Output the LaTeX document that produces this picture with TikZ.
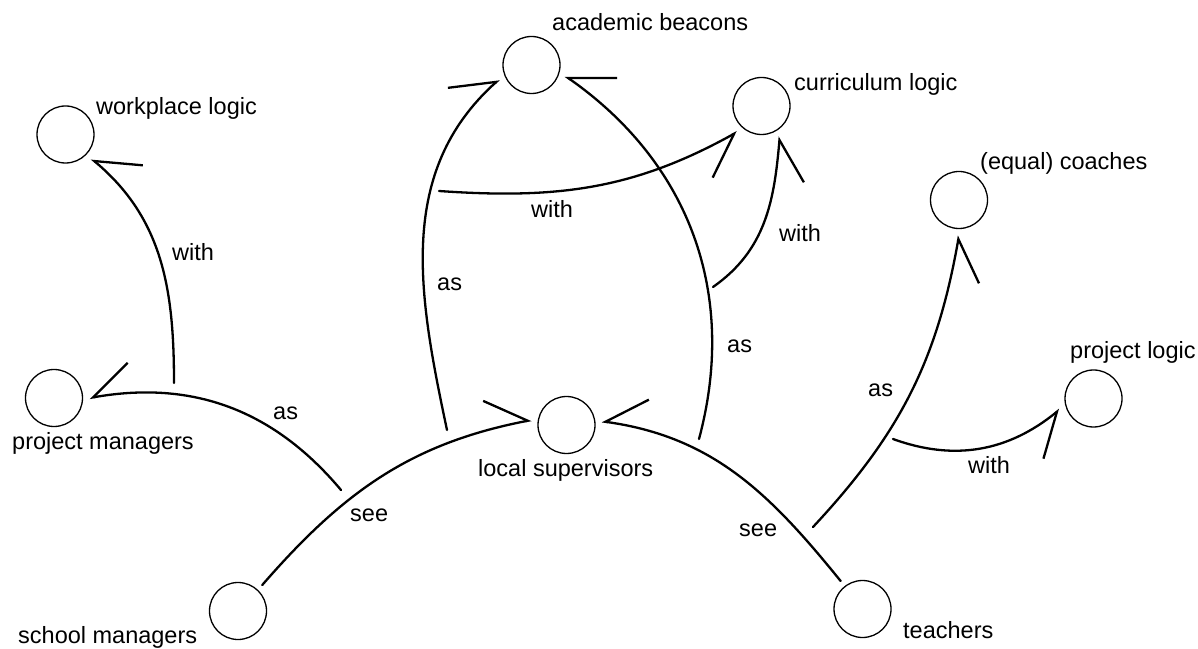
\documentclass[tikz,border=0pt]{standalone}
\usepackage{fontspec}
\setmainfont{Liberation Sans}
\usetikzlibrary{arrows.meta}
\begin{document}
\begin{tikzpicture}[x=1pt,y=1pt,
  ent/.style={circle,draw,line width=1.3pt,minimum size=57pt,inner sep=0pt,outer sep=7pt},
  lbl/.style={anchor=base west,inner sep=0pt,font=\fontsize{23.5}{28}\selectfont},
  link/.style={line width=2.3pt,line cap=round},
  tipL/.style={-{Straight Barb[left,length=40pt,width=56pt]}},
  tipR/.style={-{Straight Barb[right,length=40pt,width=56pt]}}]
\useasboundingbox (0,0) rectangle (1198,648);
% entities
\node[ent] (wl) at (65.5,513.5) {};
\node[ent] (ab) at (531.5,583) {};
\node[ent] (cl) at (761.5,542) {};
\node[ent] (ec) at (959,448) {};
\node[ent] (pl) at (1093.5,249.5) {};
\node[ent] (pm) at (54,250) {};
\node[ent] (ls) at (566.5,223) {};
\node[ent] (sm) at (238,37) {};
\node[ent] (te) at (862.5,39) {};
% entity labels
\node[lbl] (wlt) at (96,533) {workplace logic};
\node[lbl] (abt) at (552,617) {academic beacons};
\node[lbl] (clt) at (794,557) {curriculum logic};
\node[lbl] (ect) at (980,478) {(equal) coaches};
\node[lbl] (plt) at (1070,289) {project logic};
\node[lbl] (pmt) at (12,198) {project managers};
\node[lbl] (lst) at (478,172) {local supervisors};
\node[lbl] (smt) at (18,5) {school managers};
\node[lbl] (tet) at (903,10) {teachers};
% junction points
\coordinate (j1) at (341,158);
\coordinate (j2) at (174,265);
\coordinate (j3) at (447,218);
\coordinate (j4) at (439,457);
\coordinate (j5) at (699,209);
\coordinate (j6) at (713,361);
\coordinate (j7) at (813,121);
\coordinate (j8) at (893,209);
% connectors
\draw[link,tipL] (sm.47) to[out=49,in=191] (ls.172);
\draw[link,tipR] (te.128) to[out=129,in=-8] (ls.6);
\draw[link,tipL] (j3) to[out=102,in=222] (ab.204);
\draw[link,tipR] (j5) to[out=75,in=325] (ab.342);
\draw[link,tipR] (j4) to[out=-4,in=209] (cl.227);
\draw[link,tipR] (j6) to[out=35,in=265] (cl.301);
\draw[link,tipR] (j2) to[out=90,in=320] (wl.317);
\draw[link,tipR] (j1) to[out=130,in=10] (pm.0);
\draw[link,tipR] (j7) to[out=47,in=260] (ec.270);
\draw[link,tipR] (j8) to[out=-20,in=219] (pl.198);
% connector labels
\node[lbl] (e1) at (172,387) {with};
\node[lbl] (e2) at (437,357) {as};
\node[lbl] (e3) at (531,430) {with};
\node[lbl] (e4) at (779,406) {with};
\node[lbl] (e5) at (727,295) {as};
\node[lbl] (e6) at (868,251) {as};
\node[lbl] (e7) at (273,228) {as};
\node[lbl] (e8) at (968,175) {with};
\node[lbl] (e9) at (350,127) {see};
\node[lbl] (e10) at (739,112) {see};
\end{tikzpicture}
\end{document}
